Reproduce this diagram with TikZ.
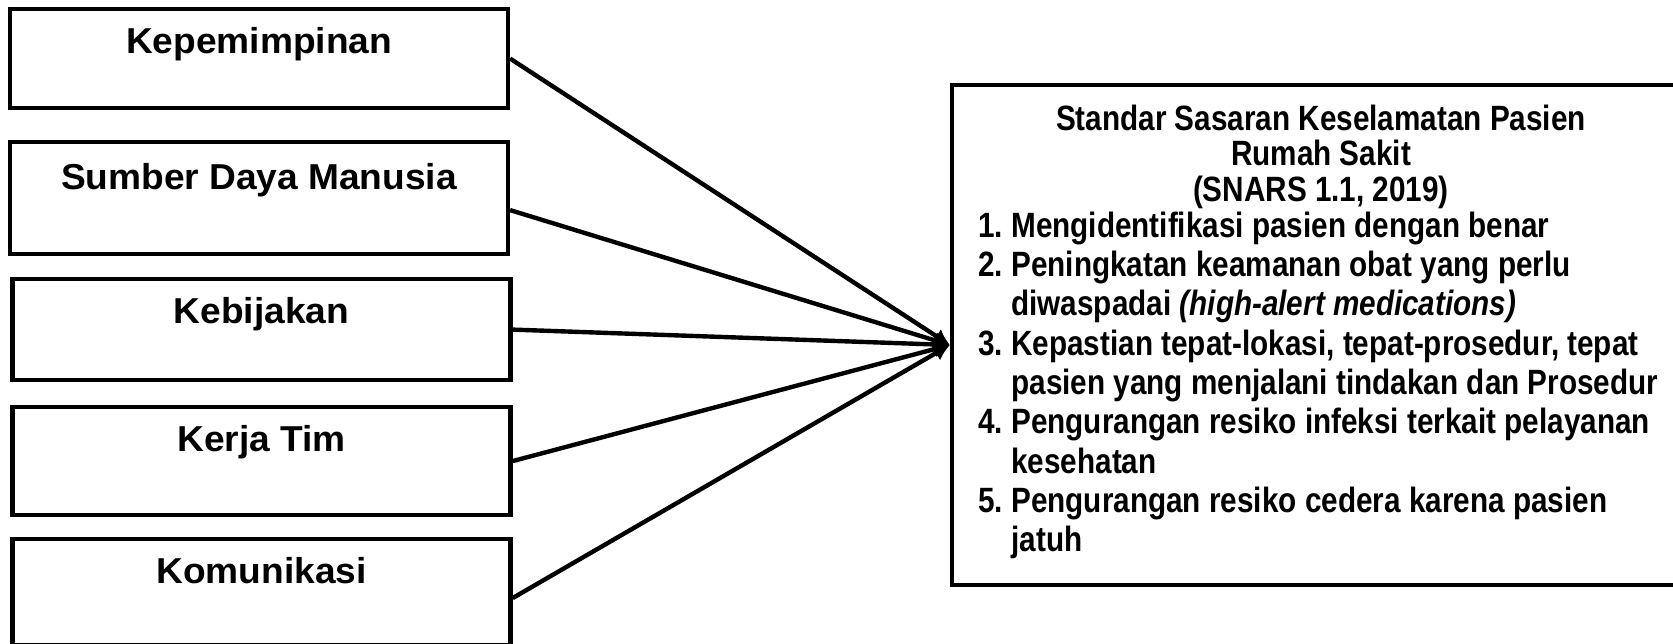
\documentclass[tikz,border=0pt]{standalone}
\usepackage{fontspec}
\setmainfont{Liberation Sans}
\newfontfamily\faktorfont[FakeStretch=1.03]{Liberation Sans}
\newfontfamily\sskfont[FakeStretch=0.845]{Liberation Sans}
\usetikzlibrary{arrows.meta}
\usetikzlibrary{positioning}

\begin{document}
\begin{tikzpicture}
	\useasboundingbox (0,0) rectangle (33.46,12.88);

	\begin{scope}[every node/.style={rectangle, draw, line width=2.4pt, inner sep=0pt,
	              anchor=north, minimum width=9.96cm, text height=0.88cm,
	              font=\faktorfont\bfseries\fontsize{20.5}{24}\selectfont}]
	    	\node[text depth=1.1cm] (pimpin) at (5.18,12.74) {Kepemimpinan};
	    	\node[text height=0.95cm, text depth=1.29cm] (sdm) at (5.18,10.08) {Sumber Daya Manusia};
	    	\node[text depth=1.14cm] (bijak) at (5.23,7.34) {Kebijakan};
	    	\node[text depth=1.28cm] (tim) at (5.23,4.78) {Kerja Tim};
	    	\node[text depth=1.24cm] (komun) at (5.23,2.14) {Komunikasi};
	\end{scope}

	\node[draw, line width=2.4pt, inner sep=0pt, minimum width=14.76cm, minimum height=10cm] (ssk) at (26.42,6.18) {};
	\node[below=0.43cm of ssk.north, inner sep=0pt, align=center,
	      font=\sskfont\bfseries\fontsize{20}{20.3}\selectfont] (judul)
	      {Standar Sasaran Keselamatan Pasien\\Rumah Sakit\\(SNARS 1.1, 2019)};
	\node[anchor=north west, inner sep=0pt, align=left,
	      font=\sskfont\bfseries\fontsize{20}{22.36}\selectfont] (daftar) at (19.56,8.65)
	      {\makebox[0.66cm][l]{1.}Mengidentifikasi pasien dengan benar\\
	       \makebox[0.66cm][l]{2.}Peningkatan keamanan obat yang perlu\\
	       \hspace*{0.66cm}diwaspadai \textit{(high-alert medications)}\\
	       \makebox[0.66cm][l]{3.}Kepastian tepat-lokasi, tepat-prosedur, tepat\\
	       \hspace*{0.66cm}pasien yang menjalani tindakan dan Prosedur\\
	       \makebox[0.66cm][l]{4.}Pengurangan resiko infeksi terkait pelayanan\\
	       \hspace*{0.66cm}kesehatan\\
	       \makebox[0.66cm][l]{5.}Pengurangan resiko cedera karena pasien\\
	       \hspace*{0.66cm}jatuh};

	\coordinate (tip) at ([yshift=-0.2cm]ssk.west);

	\begin{scope}[>={Latex[length=0.32cm, width=0.34cm]},
	              every edge/.style={draw=black, line width=2.5pt}]
		\path (pimpin.east) edge[->] (tip);
		\path ([yshift=-0.24cm]sdm.east) edge[->] (tip);
		\path (bijak.east) edge[->] (tip);
		\path (tim.east) edge[->] (tip);
		\path ([yshift=-0.12cm]komun.east) edge[->] (tip);
	\end{scope}
\end{tikzpicture}
\end{document}
